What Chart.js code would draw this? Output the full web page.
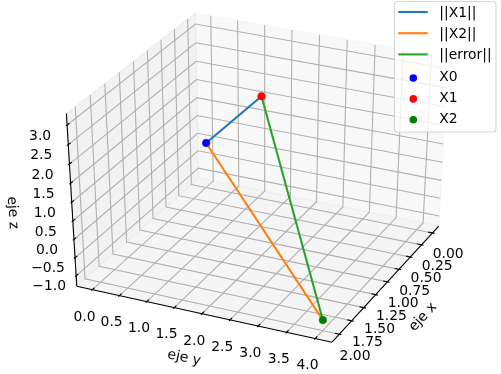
<!DOCTYPE html>
<html>
<head>
<meta charset="utf-8">
<script src="https://cdn.jsdelivr.net/npm/chart.js@4/dist/chart.umd.js"></script>
<style>
  html, body { margin: 0; padding: 0; background: #fff; }
  canvas { display: block; }
</style>
</head>
<body>
<canvas id="chart" width="501" height="374"></canvas>
<script>
// data
const X0 = [1, 1, 1.5];
const X1 = [1, 2, 3];
const X2 = [2, 4, -1];

const xTicks = [0, 0.25, 0.5, 0.75, 1, 1.25, 1.5, 1.75, 2];
const yTicks = [0, 0.5, 1, 1.5, 2, 2.5, 3, 3.5, 4];
const zTicks = [-1, -0.5, 0, 0.5, 1, 1.5, 2, 2.5, 3];
const xTickLabels = ['0.00', '0.25', '0.50', '0.75', '1.00', '1.25', '1.50', '1.75', '2.00'];
const yTickLabels = ['0.0', '0.5', '1.0', '1.5', '2.0', '2.5', '3.0', '3.5', '4.0'];
const zTickLabels = ['\u22121.0', '\u22120.5', '0.0', '0.5', '1.0', '1.5', '2.0', '2.5', '3.0'];

const lineNames = ['||X1||', '||X2||', '||error||'];
const lineColors = ['#1f77b4', '#ff7f0e', '#2ca02c'];
const pointNames = ['X0', 'X1', 'X2'];
const pointColors = ['#0000ff', '#ff0000', '#008000'];

// box limits of the 3d axes
const xBox = [-0.146, 2.146];
const yBox = [-0.29, 4.29];
const zBox = [-1.29, 3.29];

// view, fitted to the picture
const elev = 33.18 * Math.PI / 180;
const azim = 24.81 * Math.PI / 180;
const boxXY = 1.042, boxZ = 0.974, dist = 10;
const scaleX = 2686, scaleY = 2092, originX = 261.5, originY = 172.5;

const project = ([x, y, z]) => {
  const a = ((x - xBox[0]) / (xBox[1] - xBox[0]) - 0.5) * boxXY;
  const b = ((y - yBox[0]) / (yBox[1] - yBox[0]) - 0.5) * boxXY;
  const c = ((z - zBox[0]) / (zBox[1] - zBox[0]) - 0.5) * boxZ;
  const right = -Math.sin(azim) * a + Math.cos(azim) * b;
  const up = -Math.sin(elev) * Math.cos(azim) * a - Math.sin(elev) * Math.sin(azim) * b + Math.cos(elev) * c;
  const depth = Math.cos(elev) * Math.cos(azim) * a + Math.cos(elev) * Math.sin(azim) * b + Math.sin(elev) * c;
  return { x: right / (dist - depth), y: up / (dist - depth) };
};

const datasets = [];
const addLine = (points3d, color, width, extra) => {
  datasets.push(Object.assign({
    data: points3d.map(project),
    showLine: true,
    pointRadius: 0,
    borderColor: color,
    borderWidth: width,
    order: -datasets.length,
  }, extra));
};
const addPane = (points3d, color) => {
  addLine(points3d.concat([points3d[0]]), color, 1.1, { fill: 'shape', backgroundColor: color });
};

const [x0, x1] = xBox, [y0, y1] = yBox, [z0, z1] = zBox;

// panes
addPane([[x0, y0, z0], [x0, y1, z0], [x0, y1, z1], [x0, y0, z1]], 'rgba(242,242,242,0.5)');
addPane([[x0, y0, z0], [x1, y0, z0], [x1, y0, z1], [x0, y0, z1]], 'rgba(230,230,230,0.5)');
addPane([[x0, y0, z0], [x1, y0, z0], [x1, y1, z0], [x0, y1, z0]], 'rgba(236,236,236,0.5)');

// grid
const gridColor = '#b0b0b0', gridWidth = 1.1;
xTicks.forEach(t => addLine([[t, y1, z0], [t, y0, z0], [t, y0, z1]], gridColor, gridWidth));
yTicks.forEach(t => addLine([[x1, t, z0], [x0, t, z0], [x0, t, z1]], gridColor, gridWidth));
zTicks.forEach(t => addLine([[x1, y0, t], [x0, y0, t], [x0, y1, t]], gridColor, gridWidth));

// axis lines
addLine([[x0, y1, z0], [x1, y1, z0]], '#000', 1.1);
addLine([[x1, y0, z0], [x1, y1, z0]], '#000', 1.1);
addLine([[x1, y0, z0], [x1, y0, z1]], '#000', 1.1);

// tick marks
const xDelta = (xBox[1] - xBox[0]) / 12, yDelta = (yBox[1] - yBox[0]) / 12;
xTicks.forEach(t => addLine([[t, y1 - 0.2 * yDelta, z0], [t, y1 + 0.1 * yDelta, z0]], '#000', 1.1));
yTicks.forEach(t => addLine([[x1 - 0.2 * xDelta, t, z0], [x1 + 0.1 * xDelta, t, z0]], '#000', 1.1));
zTicks.forEach(t => addLine([[x1 - 0.2 * xDelta, y0, t], [x1 + 0.1 * xDelta, y0, t]], '#000', 1.1));

// the three segments and the three points
[[X0, X1], [X0, X2], [X1, X2]].forEach((seg, i) => addLine(seg, lineColors[i], 2.08));
[X0, X1, X2].forEach((p, i) => {
  datasets.push({
    data: [project(p)],
    pointRadius: 3.8,
    pointBackgroundColor: pointColors[i],
    pointBorderColor: pointColors[i],
    pointBorderWidth: 0.5,
    order: -datasets.length,
  });
});

const font = '13.9px "DejaVu Sans"';

const textPlugin = {
  id: 'axisText',
  afterDraw(chart) {
    const { ctx, scales } = chart;
    const at = (p) => {
      const q = project(p);
      return [scales.x.getPixelForValue(q.x), scales.y.getPixelForValue(q.y)];
    };
    ctx.save();
    ctx.font = font;
    ctx.fillStyle = '#000';
    ctx.textAlign = 'center';
    ctx.textBaseline = 'middle';

    xTicks.forEach((t, i) => {
      const [px, py] = at([t, y1, z0]);
      ctx.fillText(xTickLabels[i], px + 15.7, py + 21.8);
    });
    yTicks.forEach((t, i) => {
      const [px, py] = at([x1, t, z0]);
      ctx.fillText(yTickLabels[i], px - 7.8, py + 27.2);
    });
    zTicks.forEach((t, i) => {
      const [px, py] = at([x1, y0, t]);
      ctx.fillText(zTickLabels[i], px - 27, py + 11);
    });

    const rotated = (text, px, py, deg) => {
      ctx.save();
      ctx.translate(px, py);
      ctx.rotate(deg * Math.PI / 180);
      ctx.fillText(text, 0, 0);
      ctx.restore();
    };
    rotated('eje x', 423, 317, -47);
    rotated('eje y', 184, 358, 12);
    rotated('eje z', 12.5, 212.7, 86.3);

    // legend, drawn over the axes like the original
    ctx.beginPath();
    ctx.roundRect(394.5, 1.5, 101.5, 130.5, 3);
    ctx.fillStyle = 'rgba(255,255,255,0.8)';
    ctx.fill();
    ctx.strokeStyle = 'rgba(204,204,204,0.8)';
    ctx.lineWidth = 1.1;
    ctx.stroke();

    ctx.textAlign = 'left';
    ctx.fillStyle = '#000';
    lineNames.forEach((name, i) => {
      const rowY = 12 + i * 21.2;
      ctx.beginPath();
      ctx.moveTo(398.3, rowY);
      ctx.lineTo(427.7, rowY);
      ctx.strokeStyle = lineColors[i];
      ctx.lineWidth = 2.08;
      ctx.stroke();
      ctx.fillText(name, 439.3, rowY + 1.2);
    });
    pointNames.forEach((name, i) => {
      const rowY = 78 + i * 20.9;
      ctx.beginPath();
      ctx.arc(413.3, rowY, 3.8, 0, Math.PI * 2);
      ctx.fillStyle = pointColors[i];
      ctx.fill();
      ctx.fillStyle = '#000';
      ctx.fillText(name, 439.3, rowY - 0.8);
    });
    ctx.restore();
  },
};

new Chart(document.getElementById('chart').getContext('2d'), {
  type: 'scatter',
  data: { datasets },
  plugins: [textPlugin],
  options: {
    responsive: false,
    animation: false,
    events: [],
    layout: { padding: 0, autoPadding: false },
    plugins: { legend: { display: false }, tooltip: { enabled: false } },
    scales: {
      x: { display: false, min: -originX / scaleX, max: (501 - originX) / scaleX },
      y: { display: false, min: (originY - 374) / scaleY, max: originY / scaleY },
    },
  },
});
</script>
</body>
</html>
